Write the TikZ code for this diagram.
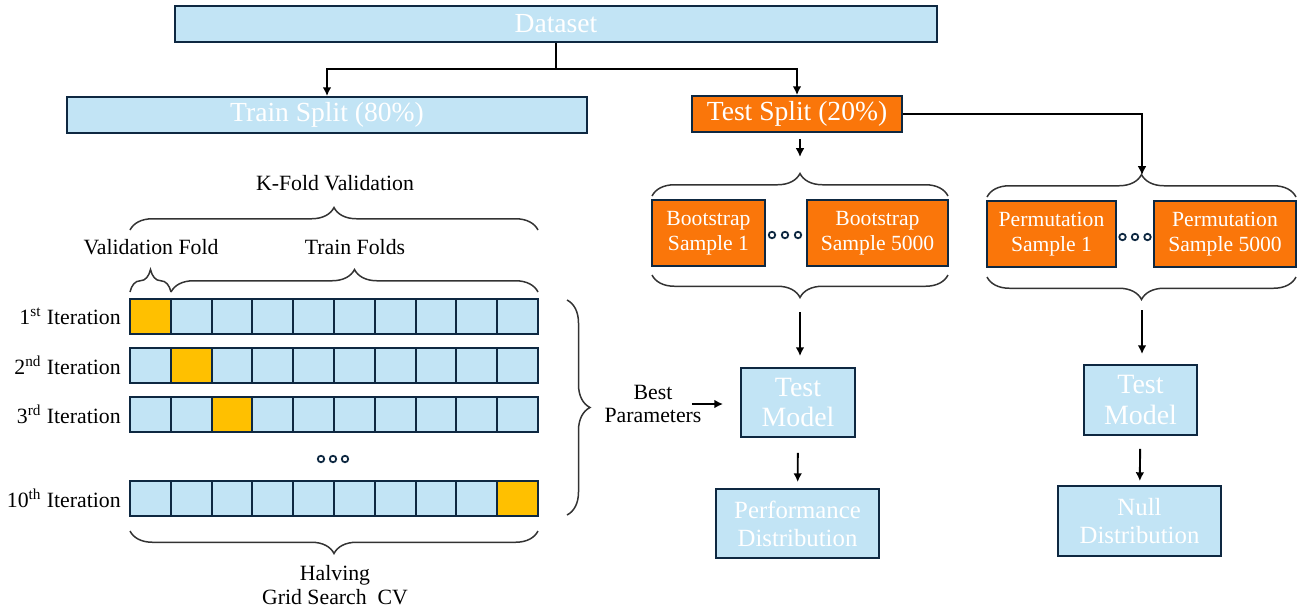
\documentclass[tikz,border=0pt]{standalone}
\usepackage{fontspec}
\setmainfont{Liberation Serif}
\usepackage{xcolor}
\usetikzlibrary{arrows.meta}
\usetikzlibrary{decorations.pathreplacing}
\definecolor{boxblue}{HTML}{C2E4F5}
\definecolor{boxline}{HTML}{0E2841}
\definecolor{splitorange}{HTML}{FA760A}
\definecolor{foldgold}{HTML}{FFC000}

\begin{document}
\begin{tikzpicture}[x=0.02cm,y=-0.02cm,
bluebox/.style={draw=boxline,line width=1.1pt,fill=boxblue,text=white,inner sep=0pt,align=center},
orangebox/.style={draw=boxline,line width=1.1pt,fill=splitorange,text=white,inner sep=0pt,align=center},
fold/.style={draw=boxline,line width=1.1pt,minimum width=0.816cm,minimum height=0.7cm,inner sep=0pt},
arr/.style={-{Latex[length=5pt,width=5pt]},line width=1.1pt},
brc/.style={decorate,decoration={brace,amplitude=0.45cm},line width=0.85pt,draw=black!80},
splittxt/.style={font=\fontsize{15.7}{17.6}\selectfont},
modeltxt/.style={font=\fontsize{15.9}{17.6}\selectfont},
disttxt/.style={font=\fontsize{14.1}{16}\selectfont},
sampletxt/.style={font=\fontsize{12.3}{14.2}\selectfont},
lbl/.style={font=\fontsize{12.4}{13.6}\selectfont,align=center,inner sep=0pt}]
\useasboundingbox (0,0) rectangle (1304,610);

\node (Data) [bluebox,splittxt,minimum width=15.24cm,minimum height=0.72cm] at (556,24) {Dataset};
\node (Train) [bluebox,splittxt,minimum width=10.4cm,minimum height=0.72cm] at (327,115) {Train Split (80\%)};
\node (Test) [orangebox,splittxt,minimum width=4.2cm,minimum height=0.72cm] at (797,114) {Test Split (20\%)};

\node (Boot1) [orangebox,sampletxt,minimum width=2.26cm,minimum height=1.32cm] at (708.5,233) {Bootstrap\\Sample 1};
\node (BootN) [orangebox,sampletxt,minimum width=2.82cm,minimum height=1.32cm] at (877.5,233) {Bootstrap\\Sample 5000};
\node (Perm1) [orangebox,sampletxt,minimum width=2.58cm,minimum height=1.32cm] at (1051.5,234) {Permutation\\Sample 1};
\node (PermN) [orangebox,sampletxt,minimum width=2.84cm,minimum height=1.32cm] at (1225,234) {Permutation\\Sample 5000};

\node (ModelA) [bluebox,modeltxt,minimum width=2.28cm,minimum height=1.38cm] at (798,402.5) {Test\\Model};
\node (Perf) [bluebox,disttxt,minimum width=3.26cm,minimum height=1.38cm] at (797.5,523.5) {Performance\\Distribution};
\node (ModelB) [bluebox,modeltxt,minimum width=2.26cm,minimum height=1.4cm] at (1140.5,400) {Test\\Model};
\node (Null) [bluebox,disttxt,minimum width=3.26cm,minimum height=1.4cm] at (1139.5,521) {Null\\Distribution};

\node (KFold) [lbl] at (335,183) {K-Fold Validation};
\node (ValFold) [lbl] at (151,247) {Validation Fold};
\node (TrainFolds) [lbl] at (355,247) {Train Folds};
\node (Halving) [lbl] at (335,585) {Halving\\Grid Search~~CV};
\node (Best) [lbl] at (653,404) {Best\\Parameters};

\foreach \r/\y/\lab in {1/316.5/1\textsuperscript{st},2/365.5/2\textsuperscript{nd},3/414.5/3\textsuperscript{rd},10/498.5/10\textsuperscript{th}} {
  \node (It\r) [lbl,anchor=east] at (121,\y) {\lab{} Iteration};
  \foreach \i in {1,...,10} {
    \pgfmathsetmacro\cx{130+40.8*(\i-0.5)}
    \ifnum\i=\r \def\fc{foldgold}\else \def\fc{boxblue}\fi
    \node (F\r-\i) [fold,fill=\fc] at (\cx,\y) {};
  }
}

\foreach \x/\y in {321/459,333/459,345/459,772/235,785/235,798/235,1122.5/237,1135/237,1147.5/237}
  \draw[boxline,line width=1pt,fill=white] (\x,\y) circle[radius=0.065cm];

\draw[brc] (130,230) -- (538,230);
\draw[brc] (130,292) -- (171,292);
\draw[brc] (171,292) -- (538,292);
\draw[brc] (538,531) -- (130,531);
\draw[brc,decoration={brace,amplitude=0.46cm}] (567,300) -- (567,515);
\draw[brc] (652,196) -- (948,196);
\draw[brc] (948,275) -- (652,275);
\draw[brc] (987,197) -- (1296,197);
\draw[brc] (1296,277) -- (987,277);

\coordinate (Fork) at (556,69);
\coordinate (BootTop) at (800,173);
\coordinate (BootBot) at (800,298);
\coordinate (PermTop) at (1142,175);
\coordinate (PermBot) at (1142,300);

\draw[arr] (Data.south) -- (Fork) -| (Train);
\draw[arr] (Fork) -| (Test);
\draw[arr,shorten <=0.12cm,shorten >=0.32cm] (Test.south -| BootTop) -- (BootTop);
\draw[arr] (Test.east) -| (PermTop);
\draw[arr,shorten <=0.28cm,shorten >=0.22cm] (BootBot) -- (BootBot |- ModelA.north);
\draw[arr,shorten <=0.3cm,shorten >=0.12cm] (ModelA) -- (Perf);
\draw[arr,shorten <=0.2cm,shorten >=0.2cm] (PermBot) -- (PermBot |- ModelB.north);
\draw[arr,shorten <=0.26cm,shorten >=0.08cm] (ModelB) -- (Null);
\draw[arr,shorten >=0.34cm] ([xshift=-0.2cm]Best.east) -- (Best.east -| ModelA.west);

\end{tikzpicture}
\end{document}
